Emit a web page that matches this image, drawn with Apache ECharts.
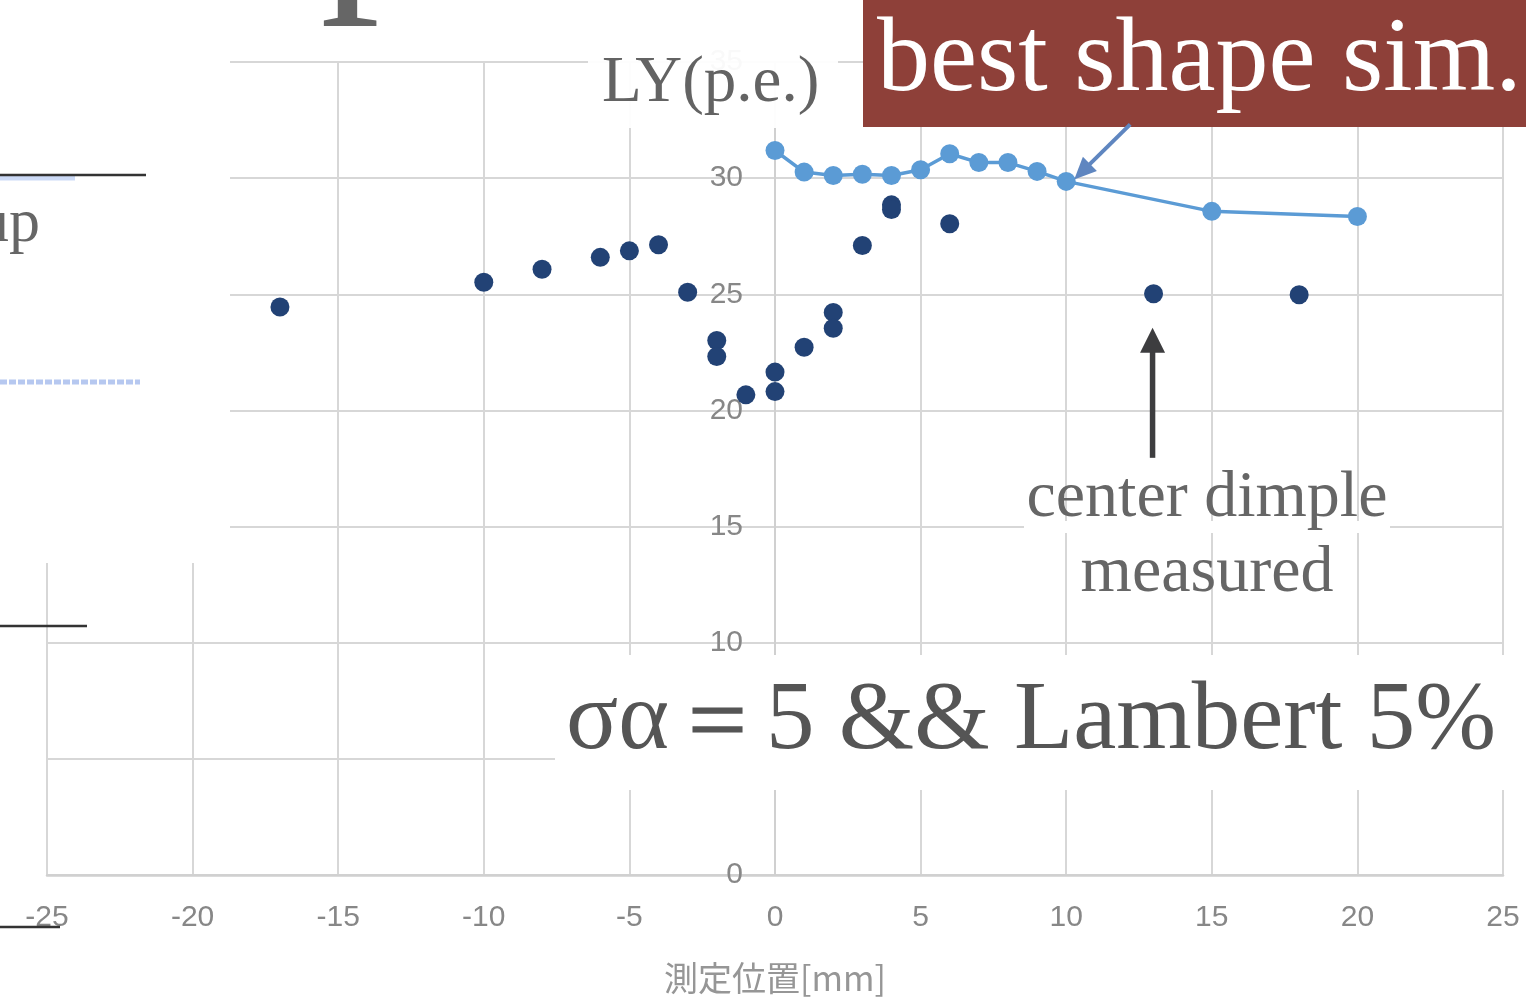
<!DOCTYPE html>
<html>
<head>
<meta charset="utf-8">
<script src="https://cdn.jsdelivr.net/npm/echarts@6/dist/echarts.min.js"></script>
<style>
html, body { margin: 0; padding: 0; background: #fff; overflow: hidden; }
#plot, #notes { position: absolute; left: 0; top: 0; width: 1526px; height: 1005px; }
#plot { filter: blur(0.5px); }
#notes { pointer-events: none; }
</style>
</head>
<body>
<div id="plot"></div>
<div id="notes"></div>
<script>
// Simulated light yield along the bar (best shape simulation)
const simPos = [0, 1, 2, 3, 4, 5, 6, 7, 8, 9, 10, 15, 20];
const simLY  = [31.19, 30.26, 30.11, 30.17, 30.11, 30.36, 31.05, 30.67, 30.67, 30.29, 29.86, 28.57, 28.35];

// Measured light yield at each position
const measPos = [-17, -10, -8, -6, -5, -4, -3, -2, -2, -1, 0, 0, 1, 2, 2, 3, 4, 4, 6, 13, 18];
const measLY  = [24.45, 25.52, 26.08, 26.59, 26.87, 27.13, 25.09, 23.01, 22.32, 20.67, 21.65, 20.81,
                 22.72, 24.22, 23.54, 27.10, 28.85, 28.65, 28.04, 25.02, 24.98];

// Axis ranges and ticks
const xTicks = [-25, -20, -15, -10, -5, 0, 5, 10, 15, 20, 25];
const yTicks = [0, 5, 10, 15, 20, 25, 30, 35];

// Text
const xAxisTitle = '測定位置[mm]';
const yAxisTitle = 'LY(p.e.)';
const simTitle = 'best shape sim.';
const dimpleNote = ['center dimple', 'measured'];
const paramNote = 'σα＝5 && Lambert 5%';

const SERIF = '"Liberation Serif", "Times New Roman", serif';
const SANS = '"Liberation Sans", Arial, sans-serif';

const W = 1526, H = 1005;
const gridBox = { left: 47, right: 23, top: 62, bottom: 130 };
const xMin = xTicks[0], xMax = xTicks[xTicks.length - 1];
// the vertical axis sits on x = 0, so shift it in from the left edge of the grid
const plotWidth = W - gridBox.left - gridBox.right;
const yAxisShift = -((0 - xMin) / (xMax - xMin)) * plotWidth;

const plot = echarts.init(document.getElementById('plot'), null, { renderer: 'canvas', width: W, height: H });
const gridColor = '#d7d7d7';

plot.setOption({
  animation: false,
  backgroundColor: '#ffffff',
  grid: Object.assign({ containLabel: false, outerBoundsMode: 'none' }, gridBox),
  xAxis: {
    type: 'value',
    min: xMin, max: xMax, interval: xTicks[1] - xTicks[0],
    axisLine: { show: true, onZero: false, lineStyle: { color: '#d0d0d0', width: 2.5 } },
    axisTick: { show: false },
    axisLabel: { color: '#878787', fontSize: 30, fontFamily: SANS, margin: 28 },
    splitLine: { show: true, lineStyle: { color: gridColor, width: 2 } },
    name: xAxisTitle, nameLocation: 'middle', nameGap: 86,
    nameTextStyle: { color: '#969696', fontSize: 34, fontFamily: '"Noto Sans CJK JP", sans-serif' }
  },
  yAxis: {
    type: 'value',
    position: 'left',
    offset: yAxisShift,
    min: yTicks[0], max: yTicks[yTicks.length - 1], interval: yTicks[1] - yTicks[0],
    axisLine: { show: true, onZero: false, lineStyle: { color: '#d0d0d0', width: 2 } },
    axisTick: { show: false },
    axisLabel: { color: '#878787', fontSize: 30, fontFamily: SANS, margin: 32 },
    splitLine: { show: true, lineStyle: { color: gridColor, width: 2 } }
  },
  series: [
    {
      type: 'scatter',
      data: measPos.map((x, i) => [x, measLY[i]]),
      symbol: 'circle', symbolSize: 19,
      itemStyle: { color: '#224275', opacity: 1 },
      z: 3
    },
    {
      type: 'line',
      data: simPos.map((x, i) => [x, simLY[i]]),
      symbol: 'circle', symbolSize: 19, showSymbol: true,
      lineStyle: { color: '#5b9bd5', width: 3.5 },
      itemStyle: { color: '#5b9bd5', opacity: 1 },
      z: 4
    }
  ]
});

// Annotation layer drawn on top of the plot
const notes = echarts.init(document.getElementById('notes'), null, { renderer: 'canvas', width: W, height: H });

function txt(x, y, text, size, fill, align, font) {
  return {
    type: 'text', x: x, y: y, z: 20,
    style: {
      text: text, fill: fill,
      font: size + 'px ' + (font || SERIF),
      textAlign: align || 'left', textVerticalAlign: 'middle',
      align: align || 'left', verticalAlign: 'middle'
    }
  };
}
function seg(x1, y1, x2, y2, stroke, w, dash) {
  const el = {
    type: 'line', z: 15,
    shape: { x1: x1, y1: y1, x2: x2, y2: y2 },
    style: { stroke: stroke, lineWidth: w }
  };
  if (dash) el.style.lineDash = dash;
  return el;
}
function box(x, y, w, h, fill) {
  return { type: 'rect', z: 10, shape: { x: x, y: y, width: w, height: h }, style: { fill: fill } };
}
function arrowHead(tip, dir, len, half, fill) {
  const bx = tip[0] - dir[0] * len, by = tip[1] - dir[1] * len;
  const px = -dir[1], py = dir[0];
  return {
    type: 'polygon', z: 16,
    shape: { points: [[tip[0], tip[1]], [bx + px * half, by + py * half], [bx - px * half, by - py * half]] },
    style: { fill: fill }
  };
}

// arrow targets taken from the plotted points
const simTarget = plot.convertToPixel({ gridIndex: 0 }, [simPos[10], simLY[10]]);
const dimpleTarget = plot.convertToPixel({ gridIndex: 0 }, [measPos[19], measLY[19]]);

const blueTip = [simTarget[0] + 8, simTarget[1] - 2];
const blueTail = [blueTip[0] + 56, blueTip[1] - 55];
const bl = Math.hypot(blueTip[0] - blueTail[0], blueTip[1] - blueTail[1]);
const blueDir = [(blueTip[0] - blueTail[0]) / bl, (blueTip[1] - blueTail[1]) / bl];

const darkTip = [dimpleTarget[0] - 1, dimpleTarget[1] + 34];
const darkTail = [darkTip[0], darkTip[1] + 130];

const elements = [
  // slide panels covering parts of the plot
  box(0, 0, 230, 563, '#ffffff'),
  box(555, 655, 971, 135, '#ffffff'),
  box(588, 36, 250, 92, 'rgba(255,255,255,0.95)'),
  box(1024, 521, 366, 12, '#ffffff'),
  box(863, 0, 663, 127, '#8e4039'),

  // fragments of neighbouring slide content on the left
  txt(320, -88, 'p', 240, '#666666'),
  txt(40, 225, 'up', 62, '#666666', 'right'),
  seg(0, 178, 75, 178, 'rgba(110,150,230,0.35)', 5),
  seg(0, 175, 146, 175, '#333333', 2.5),
  seg(0, 382, 140, 382, 'rgba(110,145,225,0.5)', 5, [7, 2]),
  seg(0, 626, 87, 626, '#333333', 2.5),
  seg(0, 927, 60, 927, '#333333', 2.5),

  // titles and notes
  txt(602, 84, yAxisTitle, 65, '#636363'),
  txt(877, 62, simTitle, 106, '#ffffff'),
  txt(566, 723, paramNote, 97, '#555555'),
  txt(1207, 499, dimpleNote[0], 66, '#666666', 'center'),
  txt(1207, 574, dimpleNote[1], 66, '#666666', 'center'),

  // arrows
  seg(blueTail[0], blueTail[1], blueTip[0] - blueDir[0] * 14, blueTip[1] - blueDir[1] * 14, '#5f86c0', 4),
  arrowHead(blueTip, blueDir, 22, 10, '#5f86c0'),
  seg(darkTail[0], darkTail[1], darkTip[0], darkTip[1] + 18, '#3d3d3f', 5.5),
  arrowHead(darkTip, [0, -1], 25, 12.5, '#3d3d3f')
];

notes.setOption({ animation: false, graphic: { elements: elements } });
</script>
</body>
</html>
